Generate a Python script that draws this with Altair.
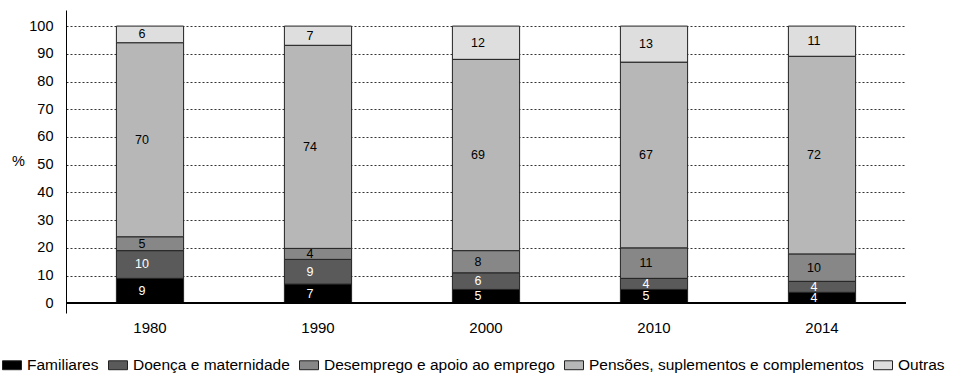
import altair as alt
import pandas as pd

years = ["1980", "1990", "2000", "2010", "2014"]
categories = [
    "Familiares",
    "Doença e maternidade",
    "Desemprego e apoio ao emprego",
    "Pensões, suplementos e complementos",
    "Outras",
]
familiares = [9, 7, 5, 5, 4]
doenca = [10, 9, 6, 4, 4]
desemprego = [5, 4, 8, 11, 10]
pensoes = [70, 74, 69, 67, 72]
outras = [6, 7, 12, 13, 11]
colors = ["#000000", "#5a5a5a", "#878787", "#b7b7b7", "#dedede"]

series = [familiares, doenca, desemprego, pensoes, outras]
rows = []
for ci, (cat, vals) in enumerate(zip(categories, series)):
    for y, v in zip(years, vals):
        rows.append({"year": y, "cat": cat, "idx": ci, "value": v})
df = pd.DataFrame(rows)

FONT = "Liberation Sans"

base = alt.Chart(df).transform_joinaggregate(
    total="sum(value)", groupby=["year"]
).transform_calculate(pct="datum.value / datum.total * 100")

xscale = alt.Scale(paddingInner=0.6, paddingOuter=0.3)
xaxis = alt.Axis(labelAngle=0, domain=False, ticks=False, labelPadding=7,
                 labelFontSize=15, labelFont=FONT, labelColor="#000", title=None)
yscale = alt.Scale(domain=[-3.5, 105.8], nice=False, zero=False)
yaxis = alt.Axis(
    values=list(range(0, 101, 10)),
    labelOverlap=False,
    grid=True,
    gridDash=[2, 2],
    gridColor="#333",
    gridWidth=1,
    ticks=False,
    domain=True,
    domainColor="#000",
    domainWidth=1,
    labelPadding=13,
    labelFontSize=14.5,
    labelFont=FONT,
    labelColor="#000",
    title="%",
    titleAngle=0,
    titleFontSize=14.5,
    titleFont=FONT,
    titleFontWeight="normal",
    titleX=-48,
    titleY=151,
    titleAlign="center",
    titleBaseline="middle",
)

bars = base.mark_bar(stroke="#222", strokeWidth=1).encode(
    x=alt.X("year:N", scale=xscale, axis=xaxis),
    y=alt.Y("pct:Q", stack="zero", scale=yscale, axis=yaxis),
    color=alt.Color(
        "cat:N",
        scale=alt.Scale(domain=categories, range=colors),
        legend=alt.Legend(
            title=None,
            orient="none",
            direction="horizontal",
            columns=5,
            legendX=-64,
            legendY=345,
            symbolType="M-1,-0.47H1V0.47H-1Z",
            symbolSize=361,
            symbolStrokeColor="#222",
            symbolStrokeWidth=1,
            symbolOpacity=1,
            labelFontSize=15.5,
            labelFont=FONT,
            labelColor="#000",
            labelOffset=5,
            columnPadding=7,
            labelLimit=500,
            labelExpr="indexof(datum.label, 'Pens') == 0 ? datum.label + '\u2003\u2003\u2003' : datum.label",
        ),
    ),
    order=alt.Order("idx:Q", sort="ascending"),
)

labels = base.transform_window(
    cum="sum(pct)",
    sort=[alt.SortField("idx")],
    groupby=["year"],
    frame=[None, 0],
).transform_calculate(mid="datum.cum - datum.pct / 2").mark_text(
    fontSize=12.5, font=FONT, dx=-8, baseline="middle"
).encode(
    x=alt.X("year:N", scale=xscale, axis=xaxis),
    y=alt.Y("mid:Q", scale=yscale, axis=yaxis),
    text=alt.Text("value:Q"),
    color=alt.condition("datum.idx < 2", alt.value("#ffffff"), alt.value("#000000")),
)

zero = alt.Chart(df).mark_rule(color="#000", strokeWidth=1).encode(
    y=alt.Y(datum=0, scale=yscale, axis=yaxis)
)

chart = alt.layer(bars, zero, labels).resolve_scale(color="independent").properties(
    width=840,
    height=303,
    padding={"left": 66, "top": 10, "right": 52, "bottom": 61},
    autosize=alt.AutoSizeParams(type="none"),
    background="white",
).configure_view(stroke=None)

chart.save("out.html", embed_options={"renderer": "svg", "actions": False})
